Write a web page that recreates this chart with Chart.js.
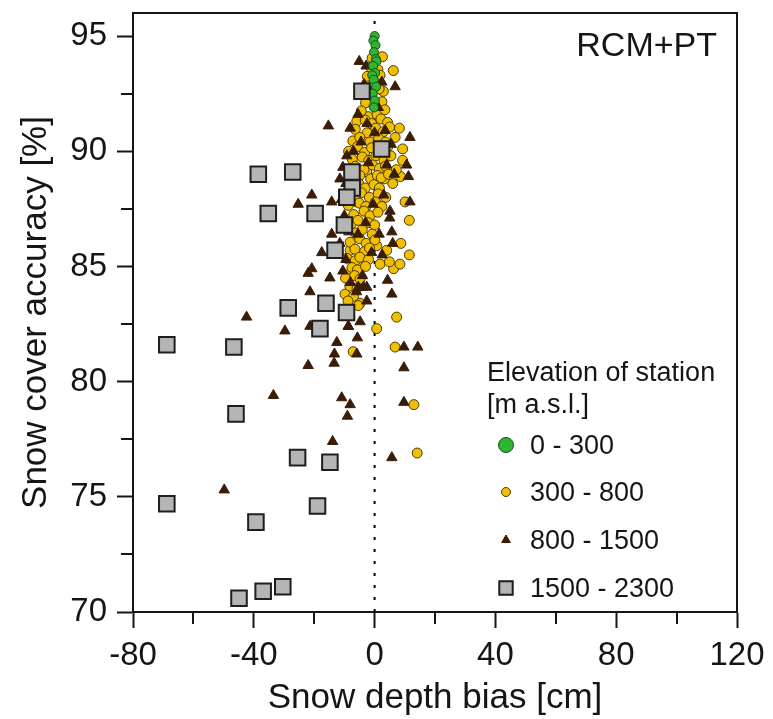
<!DOCTYPE html>
<html>
<head>
  <meta charset="UTF-8">
  <title>RCM+PT snow cover accuracy</title>
  <script src="https://cdn.jsdelivr.net/npm/chart.js"></script>
  <style>
    html, body { margin: 0; padding: 0; background: #fff; }
  </style>
</head>
<body>
  <canvas id="chart" width="773" height="719"></canvas>

  <script>
    // axis setup
    const xRange = [-80, 120];
    const yRange = [70, 96];
    const xMinorTicks = [-60, -20, 20, 60, 100];
    const yMinorTicks = [72.5, 77.5, 82.5, 87.5, 92.5];
    const zeroLine = [[0, 70], [0, 95.9]];

    const seriesNames = ["0 - 300", "300 - 800", "800 - 1500", "1500 - 2300"];

    // 0 - 300 m
    const lowStations = [
      [0.0, 95.0], [-0.4, 94.8], [0.3, 94.6], [-0.2, 94.3], [0.4, 94.0], [0.6, 93.9],
      [-0.5, 93.7], [0.2, 93.4], [-0.8, 93.3], [-0.3, 93.1], [0.5, 92.8], [-0.6, 92.5],
      [0.1, 92.2], [-0.2, 91.9]
    ];

    // 300 - 800 m
    const midStations = [
      [2.6, 94.1], [6.2, 93.5], [2.9, 92.6], [-1.8, 92.3], [-5.9, 91.3], [8.2, 91.0],
      [-2.1, 91.5], [9.3, 90.1], [9.3, 89.6], [8.6, 88.9], [6.0, 88.6], [3.2, 88.8],
      [10.1, 87.8], [11.5, 87.0], [-2.6, 89.1], [-5.9, 87.8], [0.7, 85.9], [4.0, 85.7],
      [8.7, 86.0], [11.5, 85.5], [6.3, 84.9], [1.8, 85.1], [-8.1, 85.7], [-9.8, 83.8],
      [-4.8, 83.4], [7.3, 82.8], [-3.4, 85.6], [4.9, 85.2], [8.4, 85.1], [-4.3, 85.2],
      [-8.1, 84.7], [-5.4, 83.3], [0.7, 82.3], [6.8, 81.5], [-7.1, 81.3], [13.0, 79.0],
      [14.1, 76.9],
      [-0.8, 94.05], [-1.3, 93.65], [1.1, 93.55], [-2.4, 93.25], [0.5, 93.15], [1.8, 93.3],
      [-0.9, 92.85], [1.5, 92.7], [-3.0, 92.1], [-0.2, 91.95], [2.4, 92.15],
      [-4.4, 91.75], [0.8, 91.6], [3.4, 91.8], [-3.1, 91.35], [-1.0, 91.2], [2.1, 91.4], [4.3, 91.25],
      [-6.4, 90.95], [-2.5, 90.8], [0.4, 91.0], [2.9, 90.85], [5.0, 91.05],
      [-7.2, 90.45], [-4.9, 90.6], [-1.6, 90.4], [1.3, 90.55], [3.6, 90.4], [6.8, 90.6],
      [-8.6, 90.0], [-5.7, 90.2], [-3.3, 89.95], [-1.0, 90.15], [1.9, 90.0], [4.4, 90.2],
      [-7.4, 89.65], [-4.1, 89.75], [-1.9, 89.6], [0.4, 89.8], [3.1, 89.6], [5.4, 89.8],
      [-8.3, 89.2], [-6.4, 89.35], [-3.5, 89.2], [-0.6, 89.4], [1.6, 89.25], [3.6, 89.35], [7.2, 89.2],
      [-6.8, 88.85], [-4.9, 88.95], [-1.3, 88.8], [0.9, 88.95], [2.2, 88.85], [4.6, 89.0],
      [-8.0, 88.45], [-5.3, 88.6], [-3.1, 88.4], [-0.2, 88.55], [1.6, 88.4],
      [-6.5, 88.05], [-4.4, 88.2], [-1.7, 88.0], [1.2, 88.15], [3.7, 88.0],
      [-8.7, 87.65], [-5.1, 87.75], [-2.9, 87.6], [0.3, 87.8], [2.4, 87.6],
      [-6.9, 87.25], [-3.5, 87.4], [-1.5, 87.2], [1.1, 87.35],
      [-7.7, 86.85], [-5.5, 87.0], [-2.1, 86.9], [0.0, 86.8],
      [-6.3, 86.45], [-4.1, 86.6], [-0.8, 86.4],
      [-8.1, 86.05], [-4.9, 86.2], [-2.8, 86.0], [0.1, 86.15],
      [-6.5, 85.75], [-3.3, 85.65], [-1.7, 85.8],
      [-9.2, 85.35], [-6.4, 85.25], [-4.9, 85.4], [-2.0, 85.3],
      [-7.5, 84.95], [-5.7, 84.85], [-3.0, 85.0],
      [-9.6, 84.5], [-6.6, 84.6], [-4.8, 84.45],
      [-8.2, 84.15], [-5.8, 84.05], [-7.0, 83.7], [-8.8, 83.5]
    ];

    // 800 - 1500 m
    const highStations = [
      [-5.1, 93.9], [6.8, 92.8], [-15.3, 91.1], [11.7, 90.6], [-8.1, 91.0], [-9.2, 89.8],
      [-20.8, 88.1], [-25.3, 87.7], [-14.2, 87.8], [-11.5, 88.8], [5.1, 87.4], [10.6, 89.4],
      [11.2, 88.9], [11.7, 87.8], [5.7, 86.5], [-14.2, 86.4], [-17.5, 85.6], [-20.8, 84.9],
      [-22.0, 84.7], [-14.8, 84.5], [4.3, 84.4], [5.7, 83.8], [-21.4, 83.9], [-3.7, 84.1],
      [-42.4, 82.8], [-29.7, 82.2], [-21.4, 82.4], [-8.7, 82.4], [-4.8, 82.6], [-5.7, 81.9],
      [-12.5, 81.7], [-13.3, 81.2], [-5.9, 81.2], [9.7, 81.5], [14.3, 81.5], [-22.0, 80.7],
      [-13.4, 80.8], [9.7, 80.6], [-33.5, 79.4], [-10.9, 79.3], [-8.1, 79.0], [-9.0, 78.5],
      [9.7, 79.1], [-13.9, 77.4], [5.7, 76.7], [-49.8, 75.3],
      [-5.4, 84.1], [-2.6, 84.1], [-2.6, 83.5], [-8.7, 82.4],
      [-10.5, 89.3], [-9.5, 88.6], [-11.0, 87.9], [-10.0, 87.2], [-8.5, 86.5], [-11.5, 86.0],
      [-9.5, 85.3], [-10.5, 84.8], [-8.0, 84.3], [-6.0, 83.9], [-4.0, 84.6], [-3.0, 86.9],
      [-6.5, 88.9], [-4.5, 90.4], [-2.5, 91.2], [-1.5, 92.6], [-3.5, 92.9], [1.2, 91.9],
      [3.5, 90.9], [5.5, 90.3], [4.0, 89.4], [6.5, 89.0], [3.0, 88.1], [5.0, 87.1],
      [1.5, 86.4], [-1.0, 85.6], [2.5, 85.5], [6.0, 86.0], [-7.0, 90.0], [-5.5, 91.6],
      [0.0, 90.8], [-2.0, 89.5], [2.4, 93.0], [-2.8, 93.7], [-0.5, 87.7], [-5.5, 86.4]
    ];

    // 1500 - 2300 m
    const alpineStations = [
      [-4.2, 92.6], [2.3, 90.1], [-38.5, 89.0], [-27.1, 89.1], [-35.2, 87.3], [-19.7, 87.3],
      [-7.4, 88.4], [-7.5, 89.1], [-9.2, 88.0], [-10.0, 86.8], [-13.1, 85.7], [-16.1, 83.4],
      [-28.6, 83.2], [-9.3, 83.0], [-18.1, 82.3], [-68.8, 81.6], [-46.6, 81.5], [-45.9, 78.6],
      [-25.5, 76.7], [-14.8, 76.5], [-68.8, 74.7], [-18.9, 74.6], [-39.3, 73.9], [-30.4, 71.1],
      [-36.9, 70.9], [-44.9, 70.6]
    ];

    const FONT = "'Liberation Sans', Arial, sans-serif";
    const INK = "#151515";

    const toXY = arr => arr.map(p => ({ x: p[0], y: p[1] }));

    const styles = [
      { pointStyle: "circle", radius: 4.5, backgroundColor: "#2fb52f", borderColor: "#14501a", borderWidth: 1, legendRadius: 7.5 },
      { pointStyle: "circle", radius: 5, backgroundColor: "#f0bf00", borderColor: "#4f3a00", borderWidth: 1, legendRadius: 4.5 },
      { pointStyle: "triangle", radius: 6, backgroundColor: "#3a1d08", borderColor: "#3a1d08", borderWidth: 1, legendRadius: 5 },
      { pointStyle: "rect", radius: 11, backgroundColor: "#b5b5b5", borderColor: "#1e1e1e", borderWidth: 2, legendRadius: 9.5 }
    ];

    function scatterSet(i, data, order) {
      const s = styles[i];
      return {
        label: seriesNames[i],
        data: toXY(data),
        order: order,
        showLine: false,
        pointStyle: s.pointStyle,
        pointRadius: s.radius,
        pointBackgroundColor: s.backgroundColor,
        pointBorderColor: s.borderColor,
        pointBorderWidth: s.borderWidth
      };
    }

    const framePlugin = {
      id: "frame",
      afterDatasetsDraw(chart) {
        const ctx = chart.ctx;
        const area = chart.chartArea;
        const xs = chart.scales.x;
        const ys = chart.scales.y;
        ctx.save();

        // box
        ctx.strokeStyle = INK;
        ctx.lineWidth = 2;
        ctx.beginPath();
        ctx.moveTo(area.left, area.top);
        ctx.lineTo(area.right, area.top);
        ctx.lineTo(area.right, area.bottom);
        ctx.stroke();

        // minor ticks
        ctx.beginPath();
        xMinorTicks.forEach(v => {
          const px = Math.round(xs.getPixelForValue(v));
          ctx.moveTo(px, area.bottom);
          ctx.lineTo(px, area.bottom + 12);
        });
        yMinorTicks.forEach(v => {
          const py = Math.round(ys.getPixelForValue(v));
          ctx.moveTo(area.left, py);
          ctx.lineTo(area.left - 12, py);
        });
        ctx.stroke();

        // panel label
        ctx.fillStyle = INK;
        ctx.font = "34px " + FONT;
        ctx.textAlign = "right";
        ctx.textBaseline = "alphabetic";
        ctx.fillText("RCM+PT", area.right - 20, 56);

        // legend
        ctx.textAlign = "left";
        ctx.font = "27px " + FONT;
        ctx.fillText("Elevation of station", 487, 381);
        ctx.fillText("[m a.s.l.]", 487, 413);
        const rowY = [445, 492, 540, 588];
        seriesNames.forEach((name, i) => {
          const s = styles[i];
          ctx.fillStyle = s.backgroundColor;
          ctx.strokeStyle = s.borderColor;
          ctx.lineWidth = s.borderWidth;
          Chart.helpers.drawPoint(ctx, { pointStyle: s.pointStyle, radius: s.legendRadius, borderWidth: s.borderWidth, rotation: 0 }, 506, rowY[i]);
          ctx.fillStyle = INK;
          ctx.fillText(name, 530, rowY[i] + 9);
        });
        ctx.restore();
      }
    };

    const ctx = document.getElementById("chart").getContext("2d");
    new Chart(ctx, {
      type: "scatter",
      data: {
        datasets: [
          scatterSet(3, alpineStations, 1),
          scatterSet(0, lowStations, 2),
          scatterSet(2, highStations, 3),
          scatterSet(1, midStations, 4),
          {
            label: "zero",
            data: toXY(zeroLine),
            order: 10,
            showLine: true,
            pointRadius: 0,
            borderColor: "#000",
            borderWidth: 2,
            borderDash: [3, 9]
          }
        ]
      },
      options: {
        responsive: false,
        animation: false,
        layout: { padding: { top: 10, right: 36, left: 0, bottom: 0 } },
        scales: {
          x: {
            type: "linear",
            min: xRange[0],
            max: xRange[1],
            ticks: {
              stepSize: 40, includeBounds: false, autoSkip: false, maxRotation: 0,
              padding: 8, color: INK, font: { family: FONT, size: 33 }
            },
            grid: { drawOnChartArea: false, tickLength: 16, tickWidth: 2, tickColor: INK },
            border: { color: INK, width: 2 },
            title: {
              display: true, text: "Snow depth bias [cm]", color: INK,
              font: { family: FONT, size: 35 }, padding: { top: 0, bottom: 0 }
            },
            afterFit(s) { s.height = 107; s.paddingLeft = 0; s.paddingRight = 0; }
          },
          y: {
            type: "linear",
            min: yRange[0],
            max: yRange[1],
            ticks: {
              stepSize: 5, includeBounds: false, padding: 10,
              color: INK, font: { family: FONT, size: 33 }
            },
            grid: { drawOnChartArea: false, tickLength: 16, tickWidth: 2, tickColor: INK },
            border: { color: INK, width: 2 },
            title: {
              display: true, text: "Snow cover accuracy [%]", color: INK,
              font: { family: FONT, size: 35 }, padding: { top: 15, bottom: 0 }
            },
            afterFit(s) { s.width = 133; s.paddingTop = 0; s.paddingBottom = 0; }
          }
        },
        plugins: {
          legend: { display: false },
          tooltip: { enabled: false }
        }
      },
      plugins: [framePlugin]
    });
  </script>
</body>
</html>
